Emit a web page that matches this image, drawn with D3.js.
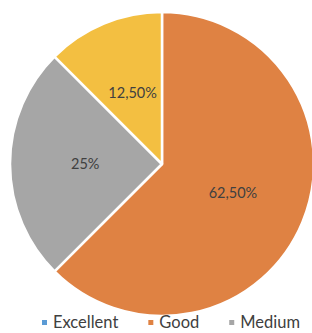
<!DOCTYPE html>
<html>
<head>
<meta charset="utf-8">
<script src="https://cdn.jsdelivr.net/npm/d3@7"></script>
<style>
  body { margin: 0; background: #fff; }
  svg { display: block; }
</style>
</head>
<body>
<script>
// data
let categories = ['Excellent', 'Good', 'Medium', 'Bad'];
let values = [0, 62.5, 25, 12.5];
let labels = ['', '62,50%', '25%', '12,50%'];
let colors = ['#5B9BD5', '#DF8243', '#A6A6A6', '#F3BF41'];
let legendItems = ['Excellent', 'Good', 'Medium'];

let width = 312,
    height = 333;

let svg = d3.select('body').append('svg')
    .attr('width', width)
    .attr('height', height);

let cx = 162, cy = 164, radius = 152;

let g = svg.append('g')
    .attr('transform', `translate(${cx},${cy})`);

let colorScale = d3.scaleOrdinal()
    .domain(categories)
    .range(colors);

let pie = d3.pie().sort(null).value(d => d.value);
let data = categories.map((c, i) => ({name: c, value: values[i], label: labels[i]}));

let arc = d3.arc().innerRadius(0).outerRadius(radius);
let labelArc = d3.arc().innerRadius(radius * 0.505).outerRadius(radius * 0.505);

let slices = g.selectAll('path.slice')
    .data(pie(data).filter(d => d.data.value > 0))
    .enter().append('path')
    .attr('class', 'slice')
    .attr('d', arc)
    .attr('fill', d => colorScale(d.data.name))
    .attr('stroke', '#fff')
    .attr('stroke-width', 2.5)
    .attr('stroke-linejoin', 'round');

g.selectAll('text.label')
    .data(pie(data).filter(d => d.data.value > 0))
    .enter().append('text')
    .attr('class', 'label')
    .attr('transform', d => `translate(${labelArc.centroid(d)})`)
    .attr('dy', '0.35em')
    .attr('text-anchor', 'middle')
    .attr('font-family', 'Lato, sans-serif')
    .attr('font-size', '14.5px')
    .attr('fill', '#404040')
    .text(d => d.data.label);

// legend
let legend = svg.append('g').attr('transform', 'translate(0,328)');
let x = 42;
legendItems.forEach(name => {
    let item = legend.append('g').attr('transform', `translate(${x},0)`);
    item.append('rect')
        .attr('x', 0)
        .attr('y', -8)
        .attr('width', 5)
        .attr('height', 5)
        .attr('fill', colorScale(name));
    let t = item.append('text')
        .attr('x', 11)
        .attr('y', 0)
        .attr('font-family', 'Lato, sans-serif')
        .attr('font-size', '16.5px')
        .attr('fill', '#404040')
        .text(name);
    x += 11 + t.node().getComputedTextLength() + 30;
});
</script>
</body>
</html>
